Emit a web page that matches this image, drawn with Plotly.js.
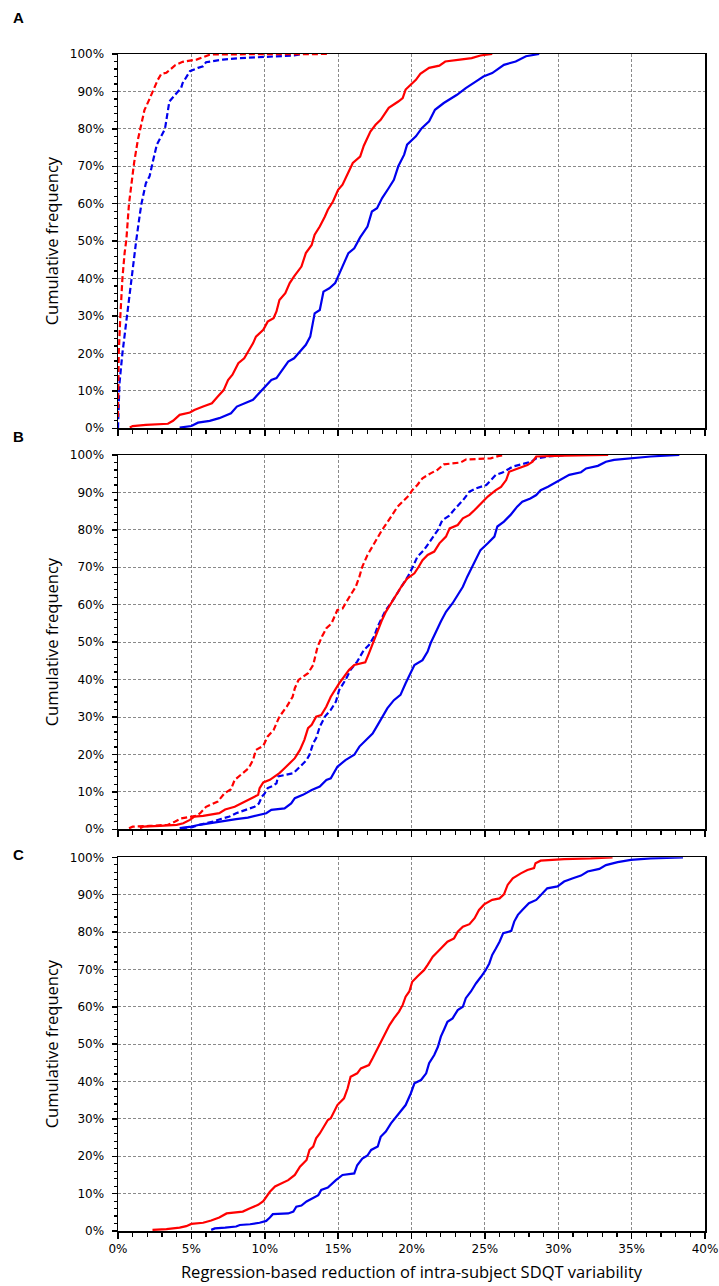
<!DOCTYPE html>
<html>
<head>
<meta charset="utf-8">
<script src="https://cdn.plot.ly/plotly-3.0.1.min.js"></script>
<style>
  body { margin: 0; background: #fff; }
  #chart { width: 719px; height: 1286px; }
</style>
</head>
<body>
<div id="chart"></div>
<script>
// values, x = reduction (%), y = cumulative frequency (%)
// panel A
var aRedDashX = [0, 0.05, 0.16, 0.3, 0.45, 0.57, 0.75, 1.0, 1.1, 1.35, 1.5, 1.8, 2.15, 2.4, 2.7, 2.95, 3.3, 3.9, 4.4, 5.35, 5.8, 6.25, 6.6, 14.3];
var aRedDashY = [3, 20, 30, 40, 46.8, 50.4, 60, 68, 71, 77, 80, 85, 88, 90.5, 93, 94.7, 95, 97, 97.9, 98.5, 99.2, 99.8, 99.9, 100];
var aBlueDashX = [0, 0.1, 0.3, 0.6, 0.75, 0.95, 1.15, 1.25, 1.5, 1.6, 1.9, 2.15, 2.4, 2.65, 3.2, 3.3, 3.5, 4.0, 4.3, 4.4, 4.9, 5.45, 5.8, 6.0, 7.15, 8.3, 10.5, 12.0, 12.5];
var aBlueDashY = [0, 12, 20, 30, 33.4, 40, 46.8, 50.4, 57.5, 60, 65.5, 67.3, 71.7, 75.8, 80, 82.4, 87.3, 89.6, 90.9, 92.2, 95.4, 96.3, 96.7, 97.8, 98.5, 98.9, 99.3, 99.6, 100];
var aRedX = [0.8, 1.0, 1.9, 3.4, 3.75, 4.2, 4.9, 5.2, 5.8, 6.4, 6.8, 7.2, 7.5, 7.8, 8.2, 8.6, 9.0, 9.2, 9.4, 9.9, 10.2, 10.6, 10.8, 11.0, 11.4, 11.7, 12.0, 12.5, 12.8, 13.2, 13.4, 13.75, 14.1, 14.3, 14.65, 15.0, 15.3, 15.7, 16.0, 16.5, 16.75, 17.2, 17.55, 17.9, 18.45, 19.1, 19.4, 19.6, 20.05, 20.3, 20.6, 21.2, 21.9, 22.3, 23.3, 24.1, 24.7, 25.5];
var aRedY = [0.2, 0.6, 0.9, 1.2, 2.0, 3.6, 4.2, 4.9, 5.8, 6.7, 8.5, 10.2, 12.9, 14.3, 17.4, 18.7, 21.4, 22.7, 24.5, 26.3, 28.5, 29.4, 31.2, 34.3, 36.1, 38.8, 40.6, 43.2, 46.8, 49.0, 51.7, 53.9, 56.6, 58.4, 60.6, 63.7, 65.1, 68.6, 70.9, 72.6, 75.5, 79.3, 81.1, 82.4, 85.6, 87.3, 88.2, 90.5, 92.2, 93.1, 94.7, 96.3, 96.9, 98.0, 98.5, 98.9, 99.6, 100];
var aBlueX = [4.2, 5.0, 5.45, 6.25, 6.9, 7.4, 7.7, 8.1, 8.6, 9.2, 9.5, 10.0, 10.45, 10.8, 11.25, 11.6, 12.0, 12.5, 12.8, 13.1, 13.3, 13.4, 13.75, 14.0, 14.4, 14.8, 15.0, 15.3, 15.7, 16.1, 16.5, 17.0, 17.3, 17.65, 18.0, 18.45, 18.8, 19.1, 19.5, 19.7, 20.3, 20.7, 21.2, 21.6, 22.2, 23.1, 23.7, 24.4, 24.9, 25.5, 26.3, 27.1, 27.8, 28.7];
var aBlueY = [0.2, 0.6, 1.5, 2.0, 2.7, 3.6, 4.0, 5.8, 6.7, 7.6, 8.9, 11.1, 12.9, 13.4, 16.0, 17.8, 18.7, 20.9, 22.3, 24.5, 28.1, 30.7, 31.6, 36.5, 37.4, 38.8, 40.6, 43.2, 46.8, 48.1, 51.0, 53.9, 57.9, 58.8, 61.5, 64.2, 66.4, 70.0, 73.1, 75.8, 78.0, 80.2, 82.0, 85.1, 86.9, 89.1, 90.9, 92.7, 94.0, 94.9, 97.1, 98.0, 99.4, 100];

// panel B
var bRedDashX = [0.75, 1.0, 2.15, 3.4, 3.9, 4.3, 5.35, 5.6, 6.0, 6.8, 7.25, 7.7, 7.95, 8.5, 8.9, 9.2, 9.4, 9.9, 10.2, 10.6, 10.8, 11.0, 11.5, 11.9, 12.05, 12.3, 12.95, 13.3, 13.6, 13.9, 14.2, 14.55, 14.95, 15.3, 15.85, 16.2, 16.45, 16.65, 17.0, 17.45, 18.0, 18.6, 19.05, 19.85, 20.05, 20.4, 20.75, 21.3, 21.75, 22.2, 23.35, 23.7, 25.4, 25.9, 26.3];
var bRedDashY = [0.3, 0.7, 0.9, 1.2, 2.1, 2.9, 3.6, 4.3, 6.0, 7.4, 9.6, 10.7, 13.2, 15.0, 16.3, 18.5, 21.2, 22.3, 24.8, 26.5, 28.3, 30.1, 32.8, 35.4, 37.7, 39.9, 41.7, 43.9, 48.8, 51.5, 53.7, 55.0, 58.6, 59.0, 62.6, 64.8, 67.5, 70.2, 73.3, 76.4, 80.0, 83.5, 86.2, 89.3, 90.6, 92.0, 93.8, 95.1, 96.0, 97.5, 98.0, 98.8, 99.1, 99.7, 100];
var bBlueDashX = [4.3, 5.0, 5.55, 6.0, 6.5, 7.05, 7.6, 8.05, 8.75, 9.3, 9.6, 9.8, 10.0, 10.2, 10.55, 10.8, 10.9, 11.5, 11.95, 12.4, 12.85, 13.05, 13.3, 13.5, 13.75, 14.1, 14.5, 14.85, 15.07, 15.5, 15.85, 16.3, 16.75, 17.1, 17.45, 17.7, 18.0, 18.25, 18.6, 18.95, 19.4, 19.75, 20.1, 20.4, 20.85, 21.3, 21.8, 22.1, 22.55, 23.0, 23.5, 23.95, 24.4, 25.1, 25.4, 25.75, 26.2, 26.9, 28.15, 28.5, 29.3, 30.2, 30.4];
var bBlueDashY = [0.3, 0.5, 1.2, 1.6, 2.1, 2.8, 3.4, 4.3, 5.2, 6.0, 6.9, 8.7, 9.6, 11.0, 11.6, 12.3, 14.1, 14.7, 15.0, 16.7, 18.5, 19.9, 23.0, 24.3, 27.4, 30.1, 31.9, 34.1, 37.2, 39.9, 42.6, 44.8, 47.9, 49.2, 51.5, 54.2, 56.4, 58.6, 60.4, 62.6, 65.3, 67.5, 70.2, 72.8, 74.6, 77.3, 80.0, 82.6, 83.7, 85.8, 87.9, 90.2, 91.1, 92.0, 93.3, 94.7, 95.3, 96.9, 98.2, 99.1, 99.6, 99.9, 100];
var bRedX = [1.5, 1.7, 2.85, 4.0, 4.45, 4.9, 5.2, 5.8, 6.9, 7.3, 7.95, 8.4, 9.1, 9.55, 9.65, 9.9, 10.35, 10.7, 11.0, 11.35, 11.7, 12.05, 12.4, 12.7, 12.95, 13.2, 13.5, 13.85, 14.2, 14.5, 15.07, 15.4, 15.75, 16.1, 16.85, 17.1, 17.45, 17.7, 18.0, 18.25, 18.6, 18.95, 19.3, 19.7, 20.2, 20.5, 20.75, 21.1, 21.55, 21.9, 22.35, 22.6, 23.15, 23.5, 23.95, 24.3, 24.75, 25.2, 25.75, 26.1, 26.45, 26.65, 27.25, 27.9, 28.25, 28.5, 30.4, 33.4];
var bRedY = [0.3, 0.7, 0.9, 1.2, 1.6, 2.5, 3.4, 3.6, 4.3, 5.3, 6.0, 6.9, 8.3, 9.2, 11.0, 12.5, 13.2, 14.1, 15.0, 16.3, 17.6, 19.0, 21.2, 23.9, 27.0, 27.9, 30.1, 30.5, 32.8, 35.4, 39.0, 40.8, 42.6, 43.9, 44.6, 47.0, 50.6, 53.3, 56.0, 58.1, 60.4, 62.6, 64.8, 67.0, 68.4, 70.2, 71.9, 73.3, 74.2, 76.4, 78.2, 80.4, 81.3, 83.1, 84.0, 85.3, 87.1, 88.9, 90.6, 91.5, 93.3, 95.5, 96.4, 97.3, 98.2, 99.6, 99.8, 100];
var bBlueX = [4.2, 5.0, 5.55, 6.5, 7.15, 8.05, 8.85, 9.55, 10.1, 10.45, 11.35, 11.8, 12.05, 12.6, 13.2, 13.75, 14.2, 14.5, 14.95, 15.5, 16.1, 16.45, 16.9, 17.35, 17.7, 18.0, 18.35, 18.8, 19.25, 19.6, 19.85, 20.2, 20.75, 21.1, 21.3, 21.65, 22.0, 22.35, 22.8, 23.15, 23.5, 23.8, 24.15, 24.4, 24.7, 25.2, 25.65, 25.85, 26.3, 26.75, 27.2, 27.55, 28.1, 28.5, 28.8, 29.3, 29.7, 30.2, 30.75, 31.55, 31.9, 32.7, 33.25, 33.8, 34.95, 36.3, 38.25];
var bBlueY = [0.3, 0.7, 1.2, 1.8, 2.3, 2.7, 3.1, 3.8, 4.3, 5.2, 5.6, 6.9, 8.3, 9.2, 10.5, 11.4, 13.2, 13.6, 16.7, 18.5, 19.9, 22.1, 23.9, 25.6, 27.9, 30.1, 32.3, 34.5, 35.9, 39.0, 41.2, 43.9, 45.2, 47.5, 49.7, 52.8, 55.5, 58.1, 60.4, 62.6, 64.8, 67.5, 70.2, 72.4, 74.6, 76.4, 78.2, 80.9, 82.2, 84.0, 86.2, 87.5, 88.4, 89.3, 90.6, 91.5, 92.4, 93.5, 94.7, 95.4, 96.4, 97.1, 98.2, 98.7, 99.1, 99.6, 100];

// panel C
var cRedX = [2.35, 3.3, 4.2, 4.65, 5.0, 5.8, 6.35, 6.9, 7.4, 8.5, 9.0, 9.55, 9.9, 10.1, 10.35, 10.7, 11.15, 11.6, 12.05, 12.4, 12.85, 13.05, 13.3, 13.5, 13.75, 14.0, 14.3, 14.5, 14.95, 15.4, 15.65, 15.85, 16.3, 16.55, 17.1, 17.35, 17.7, 18.0, 18.25, 18.5, 18.8, 19.15, 19.4, 19.6, 19.85, 20.05, 20.4, 20.85, 21.1, 21.45, 21.8, 22.1, 22.45, 22.9, 23.15, 23.5, 23.95, 24.3, 24.6, 24.95, 25.5, 26.0, 26.3, 26.55, 26.9, 27.45, 27.9, 28.35, 28.45, 28.8, 30.4, 32.2, 33.7];
var cRedY = [0.3, 0.5, 0.9, 1.3, 1.9, 2.2, 2.8, 3.6, 4.7, 5.2, 6.1, 7.0, 8.0, 9.2, 10.5, 11.9, 12.8, 13.6, 15.0, 17.2, 19.0, 21.7, 22.6, 24.8, 26.1, 27.9, 29.7, 30.2, 33.7, 35.5, 38.2, 41.3, 42.2, 43.5, 44.4, 46.2, 48.9, 51.6, 53.3, 55.1, 56.9, 58.7, 60.5, 62.7, 64.1, 66.7, 68.1, 69.8, 71.2, 73.4, 74.8, 76.1, 77.4, 78.3, 80.1, 81.4, 82.1, 83.7, 85.9, 87.4, 88.6, 89.0, 90.1, 92.6, 94.4, 95.7, 96.6, 97.1, 98.4, 99.1, 99.5, 99.7, 100];
var cBlueX = [6.35, 6.6, 7.3, 8.05, 8.3, 9.0, 9.65, 10.1, 10.35, 10.55, 11.6, 11.95, 12.15, 12.5, 12.85, 13.2, 13.65, 13.85, 14.3, 14.85, 15.3, 16.1, 16.3, 16.65, 17.0, 17.25, 17.7, 17.9, 18.25, 18.6, 18.95, 19.3, 19.6, 19.95, 20.2, 20.65, 21.0, 21.2, 21.55, 21.8, 22.0, 22.25, 22.45, 22.8, 23.15, 23.5, 23.7, 24.05, 24.4, 24.75, 25.05, 25.3, 25.5, 25.75, 26.0, 26.25, 26.8, 27.0, 27.25, 27.55, 28.0, 28.5, 28.8, 29.25, 29.95, 30.4, 31.0, 31.55, 32.0, 32.8, 33.25, 34.05, 34.95, 36.3, 38.5];
var cBlueY = [0.3, 0.7, 0.9, 1.2, 1.6, 1.8, 2.2, 2.7, 3.6, 4.5, 4.7, 5.2, 6.5, 6.8, 7.9, 8.7, 9.6, 11.0, 11.6, 13.6, 15.0, 15.4, 17.6, 19.4, 20.2, 21.7, 22.6, 25.2, 26.6, 28.8, 30.6, 32.4, 33.7, 36.8, 39.5, 40.4, 42.2, 44.9, 47.1, 49.3, 52.0, 54.2, 56.0, 56.9, 59.1, 60.0, 62.3, 64.1, 66.3, 68.1, 69.8, 71.6, 73.9, 75.6, 77.4, 79.7, 80.3, 82.8, 84.6, 85.9, 87.7, 88.6, 89.9, 91.7, 92.2, 93.5, 94.4, 95.1, 96.2, 96.9, 97.9, 98.7, 99.3, 99.7, 100];

var xTitle = 'Regression-based reduction of intra-subject SDQT variability';
var yTitle = 'Cumulative frequency';
var panelLabels = ['A', 'B', 'C'];

var RED = '#ff0000';
var BLUE = '#0000ee';
var DASH = '6px,3px';

function curve(x, y, color, dash, n) {
	return {
		type: 'scatter',
		mode: 'lines',
		x: x,
		y: y,
		xaxis: 'x' + n,
		yaxis: 'y' + n,
		line: {color: color, width: 2.2, dash: dash},
		hoverinfo: 'skip',
		showlegend: false
	};
}

var data = [
	curve(aRedX, aRedY, RED, 'solid', ''),
	curve(aBlueX, aBlueY, BLUE, 'solid', ''),
	curve(aBlueDashX, aBlueDashY, BLUE, DASH, ''),
	curve(aRedDashX, aRedDashY, RED, DASH, ''),
	curve(bBlueX, bBlueY, BLUE, 'solid', '2'),
	curve(bBlueDashX, bBlueDashY, BLUE, DASH, '2'),
	curve(bRedX, bRedY, RED, 'solid', '2'),
	curve(bRedDashX, bRedDashY, RED, DASH, '2'),
	curve(cBlueX, cBlueY, BLUE, 'solid', '3'),
	curve(cRedX, cRedY, RED, 'solid', '3')
];

var tickFont = {family: 'DejaVu Sans', size: 12, color: 'black'};

function xAxis(yName, labels) {
	return {
		anchor: yName,
		domain: [0, 1],
		range: [0, 40],
		tick0: 0,
		dtick: 5,
		ticksuffix: '%',
		showticklabels: labels,
		tickfont: tickFont,
		ticks: 'outside',
		ticklen: 6,
		tickwidth: 1.5,
		tickcolor: 'black',
		minor: {dtick: 1, ticks: 'outside', ticklen: 4, tickwidth: 1.2, tickcolor: 'black', showgrid: false},
		showgrid: true,
		gridcolor: '#8a8a8a',
		gridwidth: 1,
		griddash: '3px,2px',
		zeroline: false,
		showline: true,
		linecolor: 'black',
		linewidth: 1.5,
		mirror: true,
		fixedrange: true,
		title: labels ? {text: xTitle, font: {family: 'Open Sans', size: 16.5, color: 'black'}, standoff: 11} : {text: ''}
	};
}

function yAxis(xName, dom) {
	return {
		anchor: xName,
		domain: dom,
		range: [0, 100],
		tick0: 0,
		dtick: 10,
		ticksuffix: '%',
		tickfont: tickFont,
		ticklabelstandoff: 5,
		ticks: 'outside',
		ticklen: 5,
		tickwidth: 1.5,
		tickcolor: 'black',
		minor: {dtick: 2, ticks: 'outside', ticklen: 3, tickwidth: 1.2, tickcolor: 'black', showgrid: false},
		showgrid: true,
		gridcolor: '#8a8a8a',
		gridwidth: 1,
		griddash: '3px,2px',
		zeroline: false,
		showline: true,
		linecolor: 'black',
		linewidth: 1.5,
		mirror: true,
		fixedrange: true,
		title: {text: yTitle, font: {family: 'Open Sans', size: 16.5, color: 'black'}, standoff: 7}
	};
}

var labelY = [1.0306, 0.6746, 0.3195];
var annotations = panelLabels.map(function (t, i) {
	return {
		text: '<b>' + t + '</b>',
		xref: 'paper', yref: 'paper',
		x: -0.183, y: labelY[i],
		xanchor: 'left', yanchor: 'middle',
		showarrow: false,
		font: {family: 'Liberation Sans', size: 15, color: 'black'}
	};
});

var layout = {
	width: 719,
	height: 1286,
	margin: {l: 118, r: 14, t: 54, b: 55},
	paper_bgcolor: 'white',
	plot_bgcolor: 'white',
	showlegend: false,
	xaxis: xAxis('y', false),
	yaxis: yAxis('x', [0.682, 1]),
	xaxis2: xAxis('y2', false),
	yaxis2: yAxis('x2', [0.3413, 0.6593]),
	xaxis3: xAxis('y3', true),
	yaxis3: yAxis('x3', [0, 0.3175]),
	annotations: annotations
};

Plotly.newPlot('chart', data, layout, {displayModeBar: false, staticPlot: true});
</script>
</body>
</html>
